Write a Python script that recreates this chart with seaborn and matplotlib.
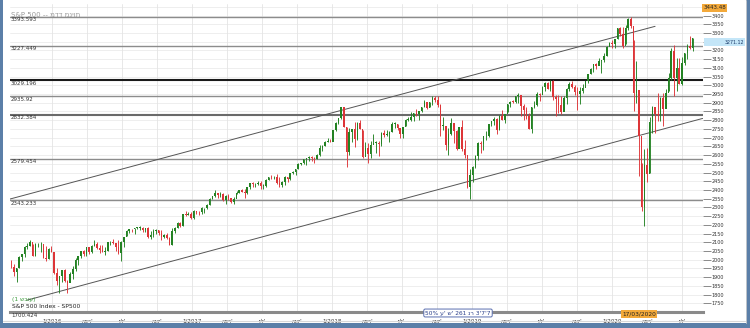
import numpy as np
import pandas as pd
import matplotlib
matplotlib.use("Agg")
import matplotlib.pyplot as plt
import matplotlib.dates as mdates
from matplotlib.patches import Rectangle
import seaborn as sns

# ---------------- data (weekly S&P 500 candles) ----------------
open_first = 1961
close15 = [1958, 1931, 1951, 2014, 2033, 2075, 2079, 2099, 2023, 2089, 2090, 2092, 2012, 2006, 2061]
high15 = [2000, 1975, 1952, 2020, 2034, 2080, 2094, 2116, 2093, 2097, 2095, 2104, 2090, 2076, 2067]
low15 = [1953, 1909, 1872, 1951, 1990, 2018, 2062, 2080, 2022, 2019, 2071, 2042, 2011, 1993, 2005]

close16 = [2044, 1922, 1880, 1906, 1940, 1880, 1864, 1917, 1948, 1999, 2022, 2049, 2035, 2073, 2047, 2081,
           2091, 2065, 2057, 2046, 2052, 2099, 2099, 2096, 2071, 2037, 2103, 2130, 2162, 2175, 2174, 2183,
           2184, 2184, 2169, 2180, 2128, 2139, 2165, 2168, 2153, 2133, 2141, 2126, 2085, 2164, 2182, 2213,
           2192, 2260, 2258, 2263, 2239]
high16 = [2081, 2038, 1950, 1908, 1940, 1947, 1881, 1930, 1962, 2009, 2024, 2052, 2056, 2074, 2075, 2084,
          2111, 2099, 2083, 2085, 2071, 2100, 2105, 2120, 2096, 2113, 2108, 2131, 2169, 2176, 2178, 2183,
          2188, 2194, 2187, 2184, 2187, 2163, 2175, 2175, 2169, 2169, 2148, 2151, 2133, 2182, 2189, 2214,
          2214, 2260, 2278, 2272, 2273]
low16 = [2043, 1918, 1857, 1812, 1872, 1872, 1810, 1871, 1891, 1937, 1969, 2012, 2023, 2022, 2033, 2039,
         2079, 2059, 2040, 2045, 2025, 2049, 2085, 2093, 2050, 2032, 1992, 2074, 2135, 2155, 2159, 2147,
         2175, 2172, 2160, 2157, 2127, 2119, 2132, 2145, 2142, 2114, 2125, 2120, 2083, 2084, 2156, 2183,
         2187, 2192, 2248, 2254, 2233]

close17 = [2277, 2275, 2271, 2295, 2297, 2316, 2351, 2367, 2383, 2373, 2378, 2344, 2363, 2355, 2329, 2349,
           2384, 2399, 2391, 2382, 2416, 2439, 2432, 2433, 2438, 2423, 2425, 2459, 2473, 2472, 2477, 2441,
           2426, 2443, 2477, 2461, 2500, 2502, 2519, 2549, 2553, 2575, 2581, 2588, 2582, 2578, 2602, 2642,
           2652, 2675, 2683, 2674]
high17 = [2283, 2279, 2279, 2301, 2299, 2319, 2352, 2368, 2401, 2385, 2390, 2381, 2370, 2378, 2356, 2362,
          2396, 2400, 2404, 2406, 2418, 2440, 2446, 2441, 2454, 2451, 2434, 2463, 2477, 2484, 2478, 2490,
          2474, 2454, 2480, 2475, 2500, 2508, 2520, 2553, 2557, 2575, 2582, 2597, 2597, 2591, 2605, 2657,
          2660, 2680, 2695, 2692]
low17 = [2234, 2263, 2258, 2263, 2267, 2288, 2313, 2348, 2357, 2355, 2357, 2336, 2322, 2344, 2328, 2322,
         2374, 2380, 2387, 2353, 2379, 2403, 2415, 2418, 2428, 2406, 2407, 2416, 2457, 2460, 2465, 2437,
         2417, 2417, 2428, 2447, 2459, 2494, 2488, 2520, 2541, 2547, 2545, 2566, 2566, 2557, 2575, 2597,
         2625, 2650, 2676, 2673]

close18 = [2743, 2786, 2810, 2873, 2762, 2620, 2732, 2747, 2691, 2786, 2752, 2588, 2641, 2604, 2656, 2670,
           2670, 2663, 2728, 2713, 2721, 2735, 2779, 2780, 2755, 2718, 2760, 2801, 2802, 2819, 2840, 2833,
           2850, 2875, 2902, 2872, 2905, 2930, 2914, 2886, 2767, 2768, 2659, 2723, 2781, 2736, 2633, 2760,
           2633, 2600, 2417, 2486]
high18 = [2744, 2788, 2813, 2873, 2870, 2763, 2754, 2747, 2789, 2787, 2801, 2741, 2675, 2672, 2680, 2718,
          2683, 2682, 2733, 2743, 2742, 2736, 2791, 2790, 2778, 2752, 2763, 2805, 2816, 2848, 2841, 2864,
          2855, 2876, 2916, 2902, 2906, 2941, 2940, 2940, 2894, 2816, 2756, 2756, 2815, 2780, 2746, 2761,
          2800, 2685, 2601, 2520]
low18 = [2683, 2737, 2778, 2808, 2759, 2533, 2600, 2675, 2647, 2686, 2747, 2585, 2594, 2554, 2586, 2666,
         2612, 2594, 2651, 2701, 2707, 2676, 2730, 2755, 2744, 2698, 2699, 2765, 2795, 2797, 2796, 2825,
         2802, 2848, 2877, 2865, 2874, 2886, 2904, 2874, 2711, 2746, 2628, 2603, 2717, 2670, 2631, 2649,
         2621, 2584, 2409, 2346]

close19 = [2532, 2596, 2671, 2665, 2707, 2708, 2776, 2793, 2804, 2743, 2822, 2801, 2834, 2893, 2907, 2905,
           2940, 2946, 2881, 2860, 2826, 2752, 2873, 2887, 2950, 2942, 2990, 3014, 2977, 3026, 2932, 2919,
           2889, 2847, 2926, 2979, 3007, 2992, 2962, 2952, 2970, 2986, 3023, 3067, 3093, 3120, 3110, 3141,
           3146, 3169, 3221, 3240]
high19 = [2538, 2598, 2675, 2681, 2709, 2739, 2776, 2794, 2817, 2812, 2830, 2860, 2838, 2894, 2910, 2917,
          2940, 2954, 2932, 2892, 2874, 2841, 2876, 2910, 2964, 2958, 2996, 3017, 3018, 3028, 3028, 2944,
          2943, 2939, 2940, 2985, 3021, 3022, 3002, 2993, 2993, 3008, 3027, 3067, 3097, 3121, 3127, 3154,
          3146, 3183, 3226, 3248]
low19 = [2443, 2524, 2570, 2612, 2631, 2685, 2704, 2764, 2774, 2722, 2741, 2800, 2785, 2848, 2873, 2899,
         2898, 2900, 2825, 2801, 2805, 2750, 2728, 2872, 2883, 2912, 2952, 2966, 2976, 2969, 2914, 2822,
         2840, 2834, 2853, 2891, 2968, 2983, 2946, 2856, 2892, 2953, 2990, 3014, 3067, 3077, 3091, 3115,
         3070, 3132, 3169, 3223]

close20 = [3235, 3265, 3330, 3295, 3226, 3328, 3380, 3338, 2954, 2972, 2711, 2305, 2541, 2489, 2790, 2875,
           2837, 2831, 2930, 2864, 2955, 3044, 3194, 3041, 3098, 3009, 3130, 3185, 3225, 3216, 3271]
high20 = [3258, 3268, 3330, 3337, 3333, 3347, 3385, 3394, 3260, 3137, 2882, 2553, 2637, 2641, 2818, 2880,
          2871, 2955, 2934, 2955, 2980, 3068, 3212, 3233, 3155, 3154, 3165, 3186, 3238, 3280, 3272]
low20 = [3212, 3214, 3268, 3281, 3214, 3234, 3315, 3328, 2855, 2901, 2478, 2280, 2192, 2447, 2500, 2728,
         2728, 2798, 2797, 2767, 2914, 2969, 3032, 2936, 2966, 3007, 3002, 3115, 3148, 3209, 3198]

# horizontal levels drawn on the chart
level_values = [3393.593, 3227.449, 3029.196, 2935.92, 2832.384, 2579.454, 2343.233, 1700.424]
level_labels = ["3393.593", "3227.449", "3029.196", "2935.92", "2832.384", "2579.454", "2343.233", "1700.424"]
level_colors = ["#8c8c8c", "#8c8c8c", "#1a1a1a", "#8c8c8c", "#6a6a6a", "#8c8c8c", "#8c8c8c", "#9a9a9a"]
level_widths = [1.0, 1.0, 1.5, 1.0, 1.5, 1.0, 1.0, 0.0]

# channel trend lines (endpoints)
upper_dates = ["2015-09-13", "2020-04-22"]
upper_vals = [2348, 3338]
lower_dates = ["2015-10-27", "2020-08-24"]
lower_vals = [1768, 2810]

y_ticks = list(range(1750, 3401, 50))
x_major = ["2016-01-01", "2016-04-01", "2016-07-01", "2016-10-01", "2017-01-01", "2017-04-01", "2017-07-01",
           "2017-10-01", "2018-01-01", "2018-04-01", "2018-07-01", "2018-10-01", "2019-01-01", "2019-04-01",
           "2019-07-01", "2019-10-01", "2020-01-01", "2020-04-01", "2020-07-01"]
x_major_labels = ["1/2016", "אפר'", "יול'", "אוק'", "1/2017", "אפר'", "יול'", "אוק'", "1/2018", "אפר'", "יול'",
                  "אוק'", "1/2019", "אפר'", "יול'", "אוק'", "1/2020", "אפר'", "יול'"]

last_price = "3271.12"
max_label = "3443.48"
cursor_date_label = "17/03/2020"
title_text = "S&P 500 -- מדד מניות"
period_text = "(1 שבוע)"
name_text = "S&P 500 Index - SP500"
box_text = "50% ע' ש' 261 נר 3'7'7"

# ---------------- assemble ----------------
close = np.array(close15 + close16 + close17 + close18 + close19 + close20, dtype=float)
high = np.array(high15 + high16 + high17 + high18 + high19 + high20, dtype=float)
low = np.array(low15 + low16 + low17 + low18 + low19 + low20, dtype=float)
assert len(close) == len(high) == len(low), (len(close), len(high), len(low))
opn = np.r_[open_first, close[:-1]]
n = len(close)
dates = pd.date_range(end="2020-07-31", periods=n, freq="W-FRI") - pd.Timedelta(days=2)
df = pd.DataFrame({"date": dates, "open": opn, "high": high, "low": low, "close": close})
df["x"] = mdates.date2num(df["date"])
df["up"] = df["close"] >= df["open"]

sns.set_theme(style="white")
plt.rcParams["font.family"] = ["DejaVu Sans"]

W, H = 750, 328
fig = plt.figure(figsize=(W / 100, H / 100), dpi=100)
fig.patch.set_facecolor("white")
ax = fig.add_axes([10 / W, 16 / H, 693 / W, 308 / H])
ax.set_facecolor("white")

ax.set_xlim(mdates.date2num(pd.Timestamp("2015-09-13")), mdates.date2num(pd.Timestamp("2020-08-25")))
ax.set_ylim(1700.424, 3466)

# grid
for v in range(1700, 3500, 50):
    ax.axhline(v, color="#ebebeb", lw=0.6, zorder=0)
for d in x_major:
    ax.axvline(mdates.date2num(pd.Timestamp(d)), color="#e4e4e4", lw=0.6, zorder=0)

# horizontal levels
for v, lab, c, w in zip(level_values, level_labels, level_colors, level_widths):
    if w > 0:
        ax.axhline(v, color=c, lw=w, zorder=1)
    ax.text(0.0015, v - 4, lab, transform=ax.get_yaxis_transform(), ha="left", va="top",
            fontsize=4, color="#333333", clip_on=False, zorder=5)

# channel lines via seaborn
ch = pd.DataFrame({
    "x": list(mdates.date2num(pd.to_datetime(upper_dates))) + list(mdates.date2num(pd.to_datetime(lower_dates))),
    "y": upper_vals + lower_vals,
    "line": ["upper", "upper", "lower", "lower"],
})
sns.lineplot(data=ch, x="x", y="y", units="line", estimator=None, color="#555555", lw=0.7, ax=ax,
             legend=False, zorder=2)

# candles
green, red = "#238223", "#dd3538"
cols = np.where(df["up"], green, red)
ax.vlines(df["x"], df["low"], df["high"], colors=cols, lw=0.65, zorder=3)
body_low = np.minimum(df["open"], df["close"])
body_h = np.maximum(np.abs(df["close"] - df["open"]), 3)
ax.bar(df["x"], body_h, bottom=body_low, width=4.0, color=cols, linewidth=0, zorder=4)

# axes styling
for s in ["top", "left", "right"]:
    ax.spines[s].set_visible(False)
ax.spines["bottom"].set_color("#8a8a8a")
ax.spines["bottom"].set_linewidth(2.2)

ax.yaxis.tick_right()
ax.set_yticks(y_ticks)
ax.set_yticklabels([str(t) for t in y_ticks])
ax.tick_params(axis="y", which="major", direction="out", length=5.5, width=0.6, color="#777777",
               labelsize=3.5, labelcolor="#333333", pad=0.8)

ax.set_xticks(mdates.date2num(pd.to_datetime(x_major)))
ax.set_xticklabels(x_major_labels)
ax.xaxis.set_minor_locator(mdates.MonthLocator())
ax.tick_params(axis="x", which="major", direction="out", length=4, width=0.8, color="#333333",
               labelsize=4, labelcolor="#333333", pad=1)
ax.tick_params(axis="x", which="minor", direction="out", length=2.5, width=0.6, color="#888888")
ax.set_xlabel("")
ax.set_ylabel("")

# text annotations
fig.text(11 / W, 1 - 15 / H, title_text, fontsize=5, color="#9a9a9a", ha="left", va="center")
fig.text(12 / W, 1 - 299 / H, period_text, fontsize=4.3, color="#3a9a3a", ha="left", va="center")
fig.text(12 / W, 1 - 307 / H, name_text, fontsize=4.3, color="#222222", ha="left", va="center")

# price tags on the right
ax.text(1.0005, 3443.48, max_label, transform=ax.get_yaxis_transform(), ha="left", va="center",
        fontsize=4.0, color="#222222", clip_on=False,
        bbox=dict(boxstyle="square,pad=0.25", fc="#f3a93a", ec="none"))
fig.patches.append(Rectangle((704 / W, 1 - 46 / H), 41 / W, 8 / H, transform=fig.transFigure,
                             fc="#c4e6f8", ec="none", zorder=0))
fig.text(744.5 / W, 1 - 42 / H, last_price, fontsize=3.4, color="#1a3a6a", ha="right", va="center")

# date cursor tag and info box on the x axis
fig.text(639 / W, 1 - 314 / H, cursor_date_label, fontsize=4.2, color="#222222", ha="center", va="center",
         bbox=dict(boxstyle="square,pad=0.2", fc="#f3a93a", ec="none"))
fig.text(458 / W, 1 - 313 / H, box_text, fontsize=4.2, color="#2a3f8a", ha="center", va="center",
         bbox=dict(boxstyle="round,pad=0.25", fc="white", ec="#5a6fb0", lw=0.7))

# frame
fig.patches.append(Rectangle((0, 0), 2.5 / W, 1, transform=fig.transFigure, fc="#5b7fa8", ec="none"))
fig.patches.append(Rectangle((746 / W, 0), 4 / W, 1, transform=fig.transFigure, fc="#5b7fa8", ec="none"))
fig.patches.append(Rectangle((0, 0), 1, 5 / H, transform=fig.transFigure, fc="#5b7fa8", ec="none"))
fig.add_artist(plt.Line2D([745.5 / W, 745.5 / W], [5 / H, 1], transform=fig.transFigure, color="#d0d0d0", lw=0.6))
fig.add_artist(plt.Line2D([2.5 / W, 745 / W], [7 / H, 7 / H], transform=fig.transFigure, color="#d8d8d8", lw=0.8))

fig.savefig("out.png", dpi=100, facecolor="white")
